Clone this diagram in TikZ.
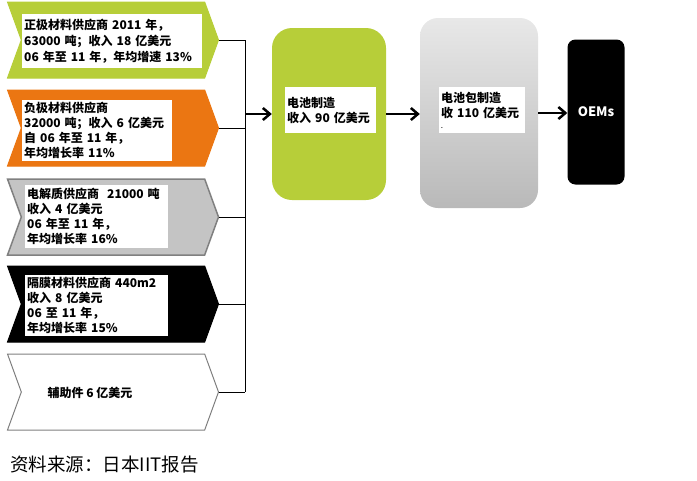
\documentclass[tikz,border=0pt]{standalone}
\usepackage{fontspec}
\setmainfont{Noto Sans CJK SC}
\usepackage{xcolor}
\usetikzlibrary{shapes.symbols,positioning,calc,arrows.meta}

\definecolor{supgreen}{RGB}{183,206,57}
\definecolor{suporange}{RGB}{235,118,18}
\definecolor{supgray}{RGB}{196,196,196}

\begin{document}
\begin{tikzpicture}[x=1pt, y=-1pt,
  chev/.style={signal, signal to=east, signal from=west, signal pointer angle=140,
    minimum width=211pt, minimum height=76pt, inner sep=0pt, line width=1pt},
  txtbox/.style={fill=white, inner sep=2pt, align=left, anchor=north west,
    font=\fontsize{12}{15}\selectfont\bfseries},
  flow/.style={line width=2.5pt, -{Straight Barb[length=7pt,width=12pt]}}]
  \useasboundingbox (0,0) rectangle (697,480);

  % Supplier chevrons
  \node[chev, fill=supgreen, draw=supgreen] (c1) at (113,40) {};
  \node[chev, fill=suporange, draw=suporange] (c2) at (113,128) {};
  \node[chev, fill=supgray, draw=gray, line width=1.5pt] (c3) at (113,217) {};
  \node[chev, fill=black, draw=black] (c4) at (113,304) {};
  \node[chev, fill=white, draw=gray] (c5) at (113,392) {};

  % Supplier texts
  \node[txtbox, text width=176pt, minimum height=54pt,
    font=\fontsize{12}{16}\selectfont\bfseries] (t1) at (22,14)
    {正极材料供应商 2011 年，\\63000 吨；收入 18 亿美元\\ 06 年至 11 年，年均增速 13\%};
  \node[txtbox, text width=146pt, minimum height=58pt] (t2) at (22,100)
    {负极材料供应商\\32000 吨；收入 6 亿美元\\自 06 年至 11 年，\\年均增长率 11\%};
  \node[txtbox, text width=139pt, minimum height=63pt] (t3) at (25,185)
    {电解质供应商\ \ 21000 吨\\收入 4 亿美元\\06 年至 11 年，\\年均增长率 16\%};
  \node[txtbox, text width=139pt, minimum height=60pt] (t4) at (25,275)
    {隔膜材料供应商 440m2\\收入 8 亿美元\\06 至 11 年，\\年均增长率 15\%};
  \node[font=\fontsize{12}{15}\selectfont\bfseries] (t5) at (90,393) {辅助件 6 亿美元};

  % Bus to battery cells
  \coordinate (bus) at (245,114);
  \foreach \c in {c1,c2,c3,c4,c5} {
    \draw (\c.east) -- (\c.east -| bus);
  }
  \draw (c1.east -| bus) -- (c5.east -| bus);

  % Battery cell, pack, OEMs
  \node[fill=supgreen, rounded corners=20pt, minimum width=114pt, minimum height=172pt] (cell) at (329,114) {};
  \node[txtbox, text width=87pt, minimum height=46pt] (celltxt) at (285,87)
    {电池制造\\收入 90 亿美元};
  \node[top color=gray!18, bottom color=gray!55, rounded corners=18pt, minimum width=118pt, minimum height=190pt] (pack) at (479,113) {};
  \node[txtbox, text width=82pt, minimum height=46pt] (packtxt) at (439,87)
    {电池包制造\\ 收 110 亿美元\\[-4pt]{\tiny .}};
  \node[fill=black, rounded corners=8pt, minimum width=57pt, minimum height=145pt,
    text=white, font=\fontsize{13}{15}\selectfont\bfseries] (oem) at (596,112) {OEMs};

  \draw[flow] (bus) -- (cell.west);
  \draw[flow] (cell.east) -- (cell.east -| pack.west);
  \draw[flow] (pack.east) -- (pack.east -| oem.west);

  % Source
  \node[anchor=west, inner sep=0pt, font=\fontsize{18.5}{21}\selectfont] (src) at (10,465) {资料来源：日本IIT报告};
\end{tikzpicture}
\end{document}
